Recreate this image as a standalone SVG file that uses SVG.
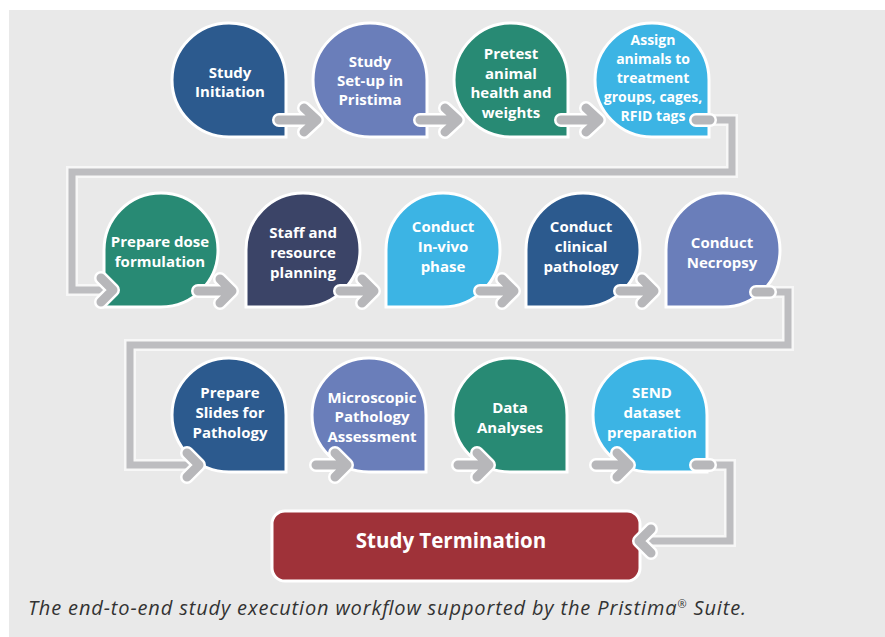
<svg xmlns="http://www.w3.org/2000/svg" xmlns:xlink="http://www.w3.org/1999/xlink" width="885" height="637" viewBox="0 0 885 637">
<defs>
<style>
.nd{stroke:#ffffff;stroke-width:3}
.c1{fill:#2c5a8e}.c2{fill:#6a7eba}.c3{fill:#288a74}.c4{fill:#3cb4e4}.c5{fill:#3b4467}
.lbl{font-family:"Open Sans","Noto Sans","Liberation Sans",sans-serif;font-weight:bold;font-size:15px;fill:#ffffff;text-anchor:middle}
.w{fill:none;stroke:#ffffff;stroke-width:14;stroke-linecap:round;stroke-linejoin:round}
.g{fill:none;stroke:#b7b7ba;stroke-width:9;stroke-linecap:round;stroke-linejoin:round}
.cw{fill:none;stroke:#f7f7f7;stroke-width:12;stroke-linejoin:miter}
.cg{fill:none;stroke:#bdbdc0;stroke-width:7;stroke-linejoin:miter}
</style>
<path id="sa" d="M-57,0 A57,57 0 0 1 0,-57 A57,57 0 0 1 57,0 L57,57 L0,57 A57,57 0 0 1 -57,0 Z"/>
<path id="sb" d="M-57,57 L-57,0 A57,57 0 0 1 0,-57 A57,57 0 0 1 57,0 A57,57 0 0 1 0,57 Z"/>
</defs>
<rect x="0" y="0" width="885" height="637" fill="#ffffff"/>
<rect x="9" y="10" width="876" height="627" fill="#e9e9e9"/>

<g id="n1"><use href="#sa" x="229" y="80" class="nd c1"/><text class="lbl"><tspan x="230" y="78">Study</tspan><tspan x="230" y="97">Initiation</tspan></text></g>
<g id="n2"><use href="#sa" x="370" y="80" class="nd c2"/><text class="lbl"><tspan x="370" y="67">Study</tspan><tspan x="370" y="86">Set-up in</tspan><tspan x="370" y="105">Pristima</tspan></text></g>
<g id="n3"><use href="#sa" x="511" y="80" class="nd c3"/><text class="lbl"><tspan x="511" y="59">Pretest</tspan><tspan x="511" y="78.5">animal</tspan><tspan x="511" y="98">health and</tspan><tspan x="511" y="117.5">weights</tspan></text></g>
<g id="n4"><use href="#sa" x="652" y="80" class="nd c4"/><text class="lbl" style="font-size:14px"><tspan x="653" y="45">Assign</tspan><tspan x="653" y="64">animals to</tspan><tspan x="653" y="83">treatment</tspan><tspan x="653" y="102">groups, cages,</tspan><tspan x="653" y="121">RFID tags</tspan></text></g>

<g id="n5"><use href="#sb" x="161" y="250" class="nd c3"/><text class="lbl"><tspan x="160" y="247">Prepare dose</tspan><tspan x="160" y="267">formulation</tspan></text></g>
<g id="n6"><use href="#sb" x="303" y="250" class="nd c5"/><text class="lbl"><tspan x="303" y="238">Staff and</tspan><tspan x="303" y="258">resource</tspan><tspan x="303" y="278">planning</tspan></text></g>
<g id="n7"><use href="#sb" x="443" y="250" class="nd c4"/><text class="lbl"><tspan x="443" y="232">Conduct</tspan><tspan x="443" y="252">In-vivo</tspan><tspan x="443" y="272">phase</tspan></text></g>
<g id="n8"><use href="#sb" x="583" y="250" class="nd c1"/><text class="lbl"><tspan x="581" y="232">Conduct</tspan><tspan x="581" y="252">clinical</tspan><tspan x="581" y="272">pathology</tspan></text></g>
<g id="n9"><use href="#sb" x="723" y="250" class="nd c2"/><text class="lbl"><tspan x="722" y="248">Conduct</tspan><tspan x="722" y="268">Necropsy</tspan></text></g>

<g id="n10"><use href="#sa" x="229" y="415" class="nd c1"/><text class="lbl"><tspan x="230" y="398">Prepare</tspan><tspan x="230" y="418">Slides for</tspan><tspan x="230" y="438">Pathology</tspan></text></g>
<g id="n11"><use href="#sa" x="369" y="415" class="nd c2"/><text class="lbl"><tspan x="372" y="403">Microscopic</tspan><tspan x="372" y="422">Pathology</tspan><tspan x="372" y="442">Assessment</tspan></text></g>
<g id="n12"><use href="#sa" x="510" y="415" class="nd c3"/><text class="lbl"><tspan x="510" y="413">Data</tspan><tspan x="510" y="433">Analyses</tspan></text></g>
<g id="n13"><use href="#sa" x="650" y="415" class="nd c4"/><text class="lbl"><tspan x="652" y="398">SEND</tspan><tspan x="652" y="418">dataset</tspan><tspan x="652" y="438">preparation</tspan></text></g>

<g id="n14"><rect x="272" y="511" width="368" height="70" rx="13" ry="13" fill="#9f3239" stroke="#ffffff" stroke-width="3"/><text x="451" y="548" style="font-family:'Open Sans','Noto Sans','Liberation Sans',sans-serif;font-weight:bold;font-size:20.5px;fill:#ffffff;text-anchor:middle">Study Termination</text></g>

<g id="connectors">
<path class="cw" d="M696,120 H732 V172 H72 V290 H104"/>
<path class="cg" d="M696,120 H732 V172 H72 V290 H104"/>
<path class="cw" d="M756,292 H788 V345 H130 V465 H196"/>
<path class="cg" d="M756,292 H788 V345 H130 V465 H196"/>
<path class="cw" d="M696,465 H730 V541 H644"/>
<path class="cg" d="M696,465 H730 V541 H644"/>
<g id="heads">
<path class="w" d="M696,120 H710 M101,278 L113,290 L101,302 M756,292 H770 M187,453 L199,465 L187,477 M696,465 H710 M651,529 L639,541 L651,553"/>
<path class="g" d="M696,120 H710 M101,278 L113,290 L101,302 M756,292 H770 M187,453 L199,465 L187,477 M696,465 H710 M651,529 L639,541 L651,553"/>
</g>
<path class="w" d="M279,120 H316 M304,108 L317,120 L304,132 M420,120 H457 M445,108 L458,120 L445,132 M561,120 H598 M586,108 L599,120 L586,132"/>
<path class="g" d="M279,120 H316 M304,108 L317,120 L304,132 M420,120 H457 M445,108 L458,120 L445,132 M561,120 H598 M586,108 L599,120 L586,132"/>
<path class="w" d="M198,291 H231 M220,279 L232,291 L220,303 M340,291 H373 M362,279 L374,291 L362,303 M480,291 H513 M502,279 L514,291 L502,303 M620,291 H653 M642,279 L654,291 L642,303"/>
<path class="g" d="M198,291 H231 M220,279 L232,291 L220,303 M340,291 H373 M362,279 L374,291 L362,303 M480,291 H513 M502,279 L514,291 L502,303 M620,291 H653 M642,279 L654,291 L642,303"/>
<path class="w" d="M316,465 H346 M335,453 L347,465 L335,477 M458,465 H488 M477,453 L489,465 L477,477 M596,465 H628 M617,453 L629,465 L617,477"/>
<path class="g" d="M316,465 H346 M335,453 L347,465 L335,477 M458,465 H488 M477,453 L489,465 L477,477 M596,465 H628 M617,453 L629,465 L617,477"/>
</g>

<text x="28" y="615" textLength="718" style="font-family:'Open Sans','Noto Sans','Liberation Sans',sans-serif;font-style:italic;font-size:20px;fill:#333333">The end-to-end study execution workflow supported by the Pristima<tspan font-size="11" dy="-7">®</tspan><tspan dy="7"> Suite.</tspan></text>
</svg>
